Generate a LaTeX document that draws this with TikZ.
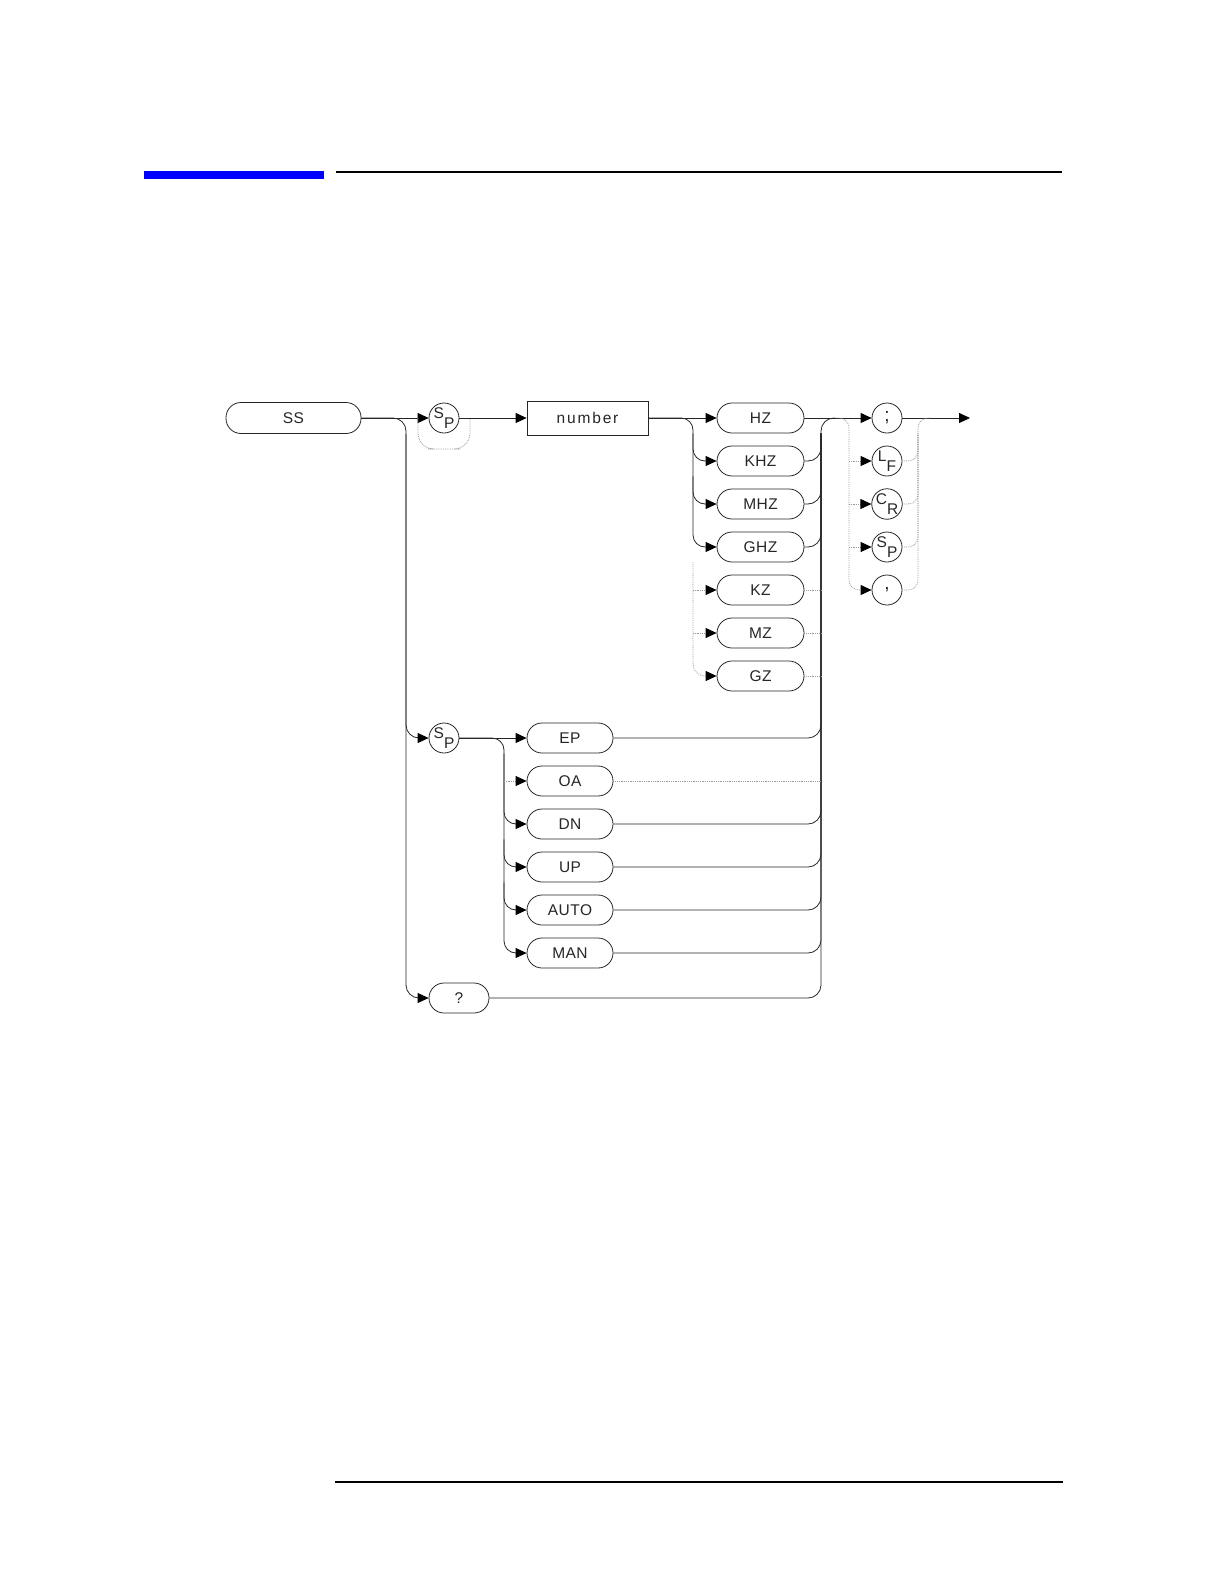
\documentclass[tikz,border=0pt]{standalone}
\usepackage{fontspec}
\setmainfont{Liberation Sans}[LetterSpace=3]
\usetikzlibrary{arrows.meta}
\usetikzlibrary{positioning}
\tikzstyle{arrow} = [-{Triangle[length=11pt,width=10pt,color=black]}]
\tikzstyle{kw} = [draw, rounded corners=15pt, minimum width=86pt, minimum height=30pt, inner sep=0pt]
\tikzstyle{chr} = [circle, draw, minimum size=30pt, inner sep=0pt]
\tikzstyle{opt} = [densely dotted, black!40]
\newcommand{\twoch}[2]{{\fontsize{15.5}{15.5}\selectfont\raisebox{4.5pt}{#1}\raisebox{-5.5pt}{#2}}}

\begin{document}
\begin{tikzpicture}[x=1pt, y=-1pt, node distance=43pt, line width=0.8pt, color=black!85, font=\fontsize{15.5}{17}\selectfont]
		\useasboundingbox (0,0) rectangle (1224,1582);
		% page rules
		\fill[blue] (144,171) rectangle (324,179);
		\draw[line width=2pt, black] (336,172) -- (1062,172);
		\draw[line width=2pt, black] (335,1482) -- (1063,1482);
		% bus lines
		\coordinate (lbus) at (406,418);
		\coordinate (ebus) at (504,738);
		\coordinate (ubus) at (693,418);
		\coordinate (rbus) at (821,418);
		\coordinate (tl) at (849,418);
		\coordinate (tr) at (918,418);
		\coordinate (out) at (970,418);
		% nodes
		\node (ss) [kw, minimum width=135pt, minimum height=31pt] at (293.5,418) {SS};
		\node (sp1) [chr] at (444,418) {\twoch{S}{P}};
		\node (num) [draw, minimum width=121pt, minimum height=34pt, inner sep=0pt] at (587.5,418) {\addfontfeature{LetterSpace=12}number};
		\node (hz) [kw, minimum width=87pt] at (760.5,418) {HZ};
		\node (khz) [kw, minimum width=87pt, below of=hz] {KHZ};
		\node (mhz) [kw, minimum width=87pt, below of=khz] {MHZ};
		\node (ghz) [kw, minimum width=87pt, below of=mhz] {GHZ};
		\node (kz) [kw, minimum width=87pt, below of=ghz] {KZ};
		\node (mz) [kw, minimum width=87pt, below of=kz] {MZ};
		\node (gz) [kw, minimum width=87pt, below of=mz] {GZ};
		\node (semi) [chr, font=\fontsize{19}{19}\selectfont] at (887,418) {;};
		\node (lf) [chr, below of=semi] {\twoch{L}{F}};
		\node (cr) [chr, below of=lf] {\twoch{C}{R}};
		\node (sp3) [chr, below of=cr] {\twoch{S}{P}};
		\node (comma) [chr, below of=sp3, font=\fontsize{19}{19}\selectfont] {,};
		\node (sp2) [chr] at (444,738) {\twoch{S}{P}};
		\node (ep) [kw] at (570,738) {EP};
		\node (oa) [kw, below of=ep] {OA};
		\node (dn) [kw, below of=oa] {DN};
		\node (up) [kw, below of=dn] {UP};
		\node (auto) [kw, below of=up] {AUTO};
		\node (man) [kw, below of=auto] {MAN};
		\node (qm) [kw, minimum width=60pt] at (459,998) {?};
		% first row
		\draw [arrow] (ss.east) -- (sp1.west);
		\draw [arrow] (sp1.east) -- (num.west);
		\draw [opt, rounded corners=16pt] ([xshift=-26pt]sp1.center) |- ([yshift=-31pt]sp1.center) -| ([xshift=26pt]sp1.center);
		\draw [arrow] (num.east) -- (hz.west);
		\draw [arrow, rounded corners=13pt] (ss.east) -| (lbus |- qm) -- (qm.west);
		\draw [arrow, rounded corners=13pt] (lbus |- ss.south) |- (sp2.west);
		% units
		\draw [arrow, rounded corners=12pt] (num.east) -| (ubus |- ghz) -- (ghz.west);
		\draw [arrow, rounded corners=12pt] (ubus |- hz.south) |- (khz.west);
		\draw [arrow, rounded corners=12pt] (ubus |- khz.south) |- (mhz.west);
		\draw [opt, arrow, rounded corners=12pt] (ubus |- ghz.south) |- (gz.west);
		\foreach \n in {kz,mz}
			\draw [opt, arrow] (ubus |- \n) -- (\n.west);
		% keywords
		\draw [arrow] (sp2.east) -- (ep.west);
		\draw [arrow, rounded corners=12pt] (sp2.east) -| (ebus |- man) -- (man.west);
		\foreach \n/\m in {ep/dn,dn/up,up/auto}
			\draw [arrow, rounded corners=12pt] (ebus |- \n.south) |- (\m.west);
		\draw [opt, arrow] (ebus |- oa) -- (oa.west);
		% right bus
		\draw [rounded corners=13pt] (qm.east) -| (rbus) -- ([xshift=14pt]rbus);
		\foreach \n in {khz,mhz,ghz,ep,dn,up,auto,man}
			\draw [rounded corners=13pt] (\n.east) -| (rbus |- hz.south);
		\foreach \n in {kz,mz,gz,oa}
			\draw [opt] (\n.east) -- (rbus |- \n);
		% terminators
		\draw [arrow] (hz.east) -- (semi.west);
		\draw [arrow] (semi.east) -- (out);
		\draw [opt, arrow, rounded corners=10pt] ([xshift=-12pt]tl) -| (tl |- comma) -- (comma.west);
		\foreach \n in {lf,cr,sp3}
			\draw [opt, arrow] (tl |- \n) -- (\n.west);
		\draw [opt, rounded corners=10pt] (comma.east) -| (tr) -- ([xshift=12pt]tr);
		\foreach \n in {lf,cr,sp3}
			\draw [opt, rounded corners=10pt] (\n.east) -| (tr |- semi.south);
\end{tikzpicture}
\end{document}
